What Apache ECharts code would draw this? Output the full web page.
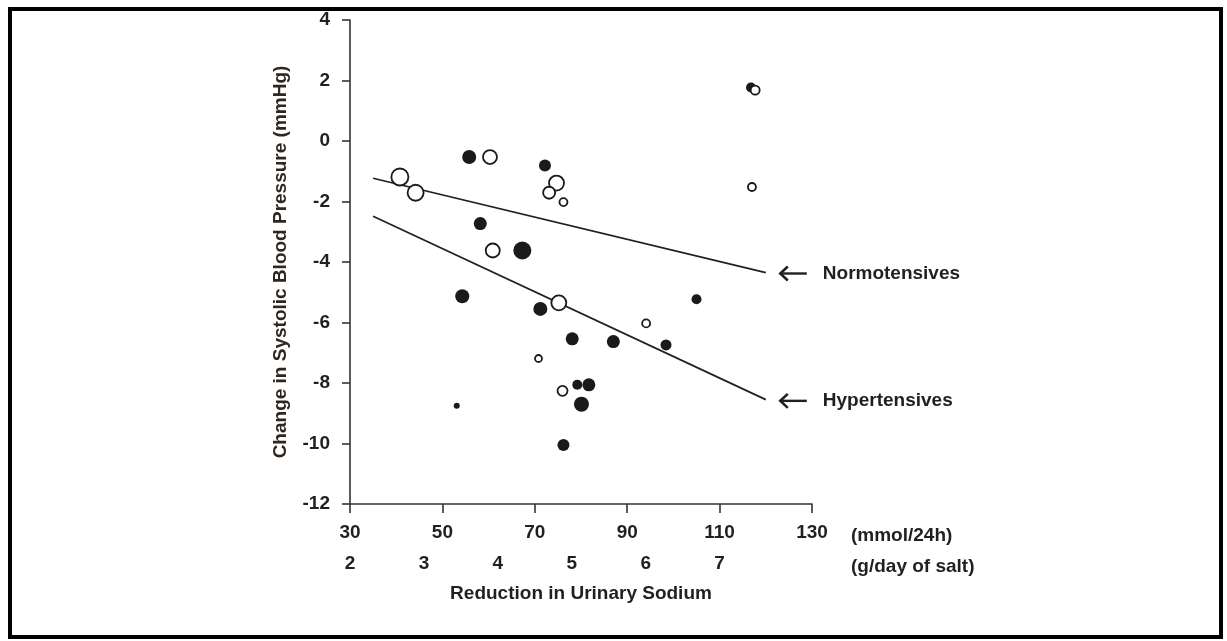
<!DOCTYPE html>
<html>
<head>
<meta charset="utf-8">
<script src="https://cdn.jsdelivr.net/npm/echarts@6/dist/echarts.min.js"></script>
<style>
html,body{margin:0;padding:0;background:#fff;}
#chart{width:1227px;height:641px;}
</style>
</head>
<body>
<div id="chart"></div>
<script>
// ---- data ----
const xTicks = [30, 50, 70, 90, 110, 130];
const yTicks = [-12, -10, -8, -6, -4, -2, 0, 2, 4];
const saltTicks = [2, 3, 4, 5, 6, 7];

// Hypertensives (filled circles): reduction in urinary sodium (mmol/24h), change in SBP (mmHg), trial weight
const hyperX = [55.8, 72.2, 58.2, 67.3, 54.3, 71.2, 78.1, 87.0, 98.4, 105.0, 79.2, 81.7, 80.1, 76.2, 53.1, 116.8];
const hyperY = [-0.53, -0.81, -2.73, -3.62, -5.13, -5.55, -6.54, -6.63, -6.74, -5.23, -8.06, -8.06, -8.70, -10.05, -8.75, 1.77];
const hyperWeight = [14, 12, 13, 18, 14, 14, 13, 13, 11, 10, 10, 13, 15, 12, 6, 10];

// Normotensives (open circles)
const normoX = [40.8, 44.2, 60.3, 74.7, 73.1, 76.2, 60.9, 75.2, 70.8, 76.0, 94.1, 117.7, 117.0];
const normoY = [-1.19, -1.71, -0.53, -1.39, -1.71, -2.02, -3.62, -5.35, -7.19, -8.26, -6.03, 1.68, -1.52];
const normoWeight = [17, 16, 14, 15, 12, 8, 14, 15, 7, 10, 8, 9, 8];

// Regression lines
const fitX = [35, 120];
const normoFitY = [-1.23, -4.35];
const hyperFitY = [-2.49, -8.55];

// Annotations
const lineLabels = ['Normotensives', 'Hypertensives'];
const lineLabelY = [-4.38, -8.59];

// ---- build ----
const TXT = '#231f20';
const FONT = 'Liberation Sans, Arial, Helvetica, sans-serif';
const zip3 = (xs, ys, ws) => xs.map((x, i) => [x, ys[i], ws[i]]);
const zip2 = (xs, ys) => xs.map((x, i) => [x, ys[i]]);

const chart = echarts.init(document.getElementById('chart'), null, {renderer: 'canvas'});

const labelStyle = {color: TXT, fontFamily: FONT, fontWeight: 'bold', fontSize: 19};

const option = {
  backgroundColor: '#fff',
  animation: false,
  grid: {left: 350, right: 415, top: 20, bottom: 137},
  xAxis: [{
    type: 'value', min: xTicks[0], max: xTicks[xTicks.length - 1], interval: 20,
    axisLine: {onZero: false, lineStyle: {color: '#333', width: 1.6}},
    axisTick: {show: true, length: 9, lineStyle: {color: '#333', width: 1.6}},
    axisLabel: Object.assign({margin: 19}, labelStyle),
    splitLine: {show: false},
    name: 'Reduction in Urinary Sodium', nameLocation: 'middle', nameGap: 80,
    nameTextStyle: labelStyle
  }, {
    type: 'value', position: 'bottom', offset: 31,
    min: saltTicks[0], max: saltTicks[0] + (xTicks[xTicks.length - 1] - xTicks[0]) / 16, interval: 1,
    axisLine: {show: false}, axisTick: {show: false}, splitLine: {show: false},
    axisLabel: Object.assign({margin: 19, formatter: v => (saltTicks.indexOf(v) >= 0 ? String(v) : '')}, labelStyle)
  }],
  yAxis: {
    type: 'value', min: yTicks[0], max: yTicks[yTicks.length - 1], interval: 2,
    axisLine: {show: true, onZero: false, lineStyle: {color: '#333', width: 1.6}},
    axisTick: {show: true, length: 8, lineStyle: {color: '#333', width: 1.6}},
    axisLabel: Object.assign({margin: 20}, labelStyle),
    splitLine: {show: false},
    name: 'Change in Systolic Blood Pressure (mmHg)', nameLocation: 'middle', nameGap: 60,
    nameTextStyle: Object.assign({}, labelStyle, {color: '#2e2620'})
  },
  series: [
    {type: 'line', data: zip2(fitX, normoFitY), symbol: 'none', lineStyle: {color: TXT, width: 1.7}, z: 1},
    {type: 'line', data: zip2(fitX, hyperFitY), symbol: 'none', lineStyle: {color: TXT, width: 1.7}, z: 1},
    {type: 'scatter', name: 'Hypertensives', data: zip3(hyperX, hyperY, hyperWeight),
      symbolSize: d => d[2], itemStyle: {color: '#1a1a1a', opacity: 1}, z: 3},
    {type: 'scatter', name: 'Normotensives', data: zip3(normoX, normoY, normoWeight),
      symbolSize: d => d[2], itemStyle: {color: '#fff', borderColor: '#1a1a1a', borderWidth: 1.8, opacity: 1}, z: 4}
  ]
};
chart.setOption(option);

// annotations positioned from data coordinates
const gfx = [
  // frame
  {type: 'rect', shape: {x: 10, y: 9, width: 1211, height: 628}, style: {fill: 'none', stroke: '#000', lineWidth: 4}, silent: true}
];
lineLabels.forEach((txt, i) => {
  const p = chart.convertToPixel({xAxisIndex: 0, yAxisIndex: 0}, [fitX[1], lineLabelY[i]]);
  const tipX = p[0] + 14, y = p[1];
  gfx.push({type: 'line', shape: {x1: tipX, y1: y, x2: tipX + 27, y2: y}, style: {stroke: TXT, lineWidth: 2.4}});
  gfx.push({type: 'polyline', shape: {points: [[tipX + 8, y - 7], [tipX + 0.5, y], [tipX + 8, y + 7]]}, style: {stroke: TXT, lineWidth: 2.6, fill: 'none'}});
  gfx.push({type: 'text', x: tipX + 43, y: y, style: {text: txt, fill: TXT, font: 'bold 19px ' + FONT, textVerticalAlign: 'middle', verticalAlign: 'middle'}});
});
const endPx = chart.convertToPixel({xAxisIndex: 0, yAxisIndex: 0}, [xTicks[xTicks.length - 1], yTicks[0]]);
gfx.push({type: 'text', x: endPx[0] + 39, y: endPx[1] + 32, style: {text: '(mmol/24h)', fill: TXT, font: 'bold 19px ' + FONT, verticalAlign: 'middle'}});
gfx.push({type: 'text', x: endPx[0] + 39, y: endPx[1] + 63, style: {text: '(g/day of salt)', fill: TXT, font: 'bold 19px ' + FONT, verticalAlign: 'middle'}});
chart.setOption({graphic: gfx});
</script>
</body>
</html>
